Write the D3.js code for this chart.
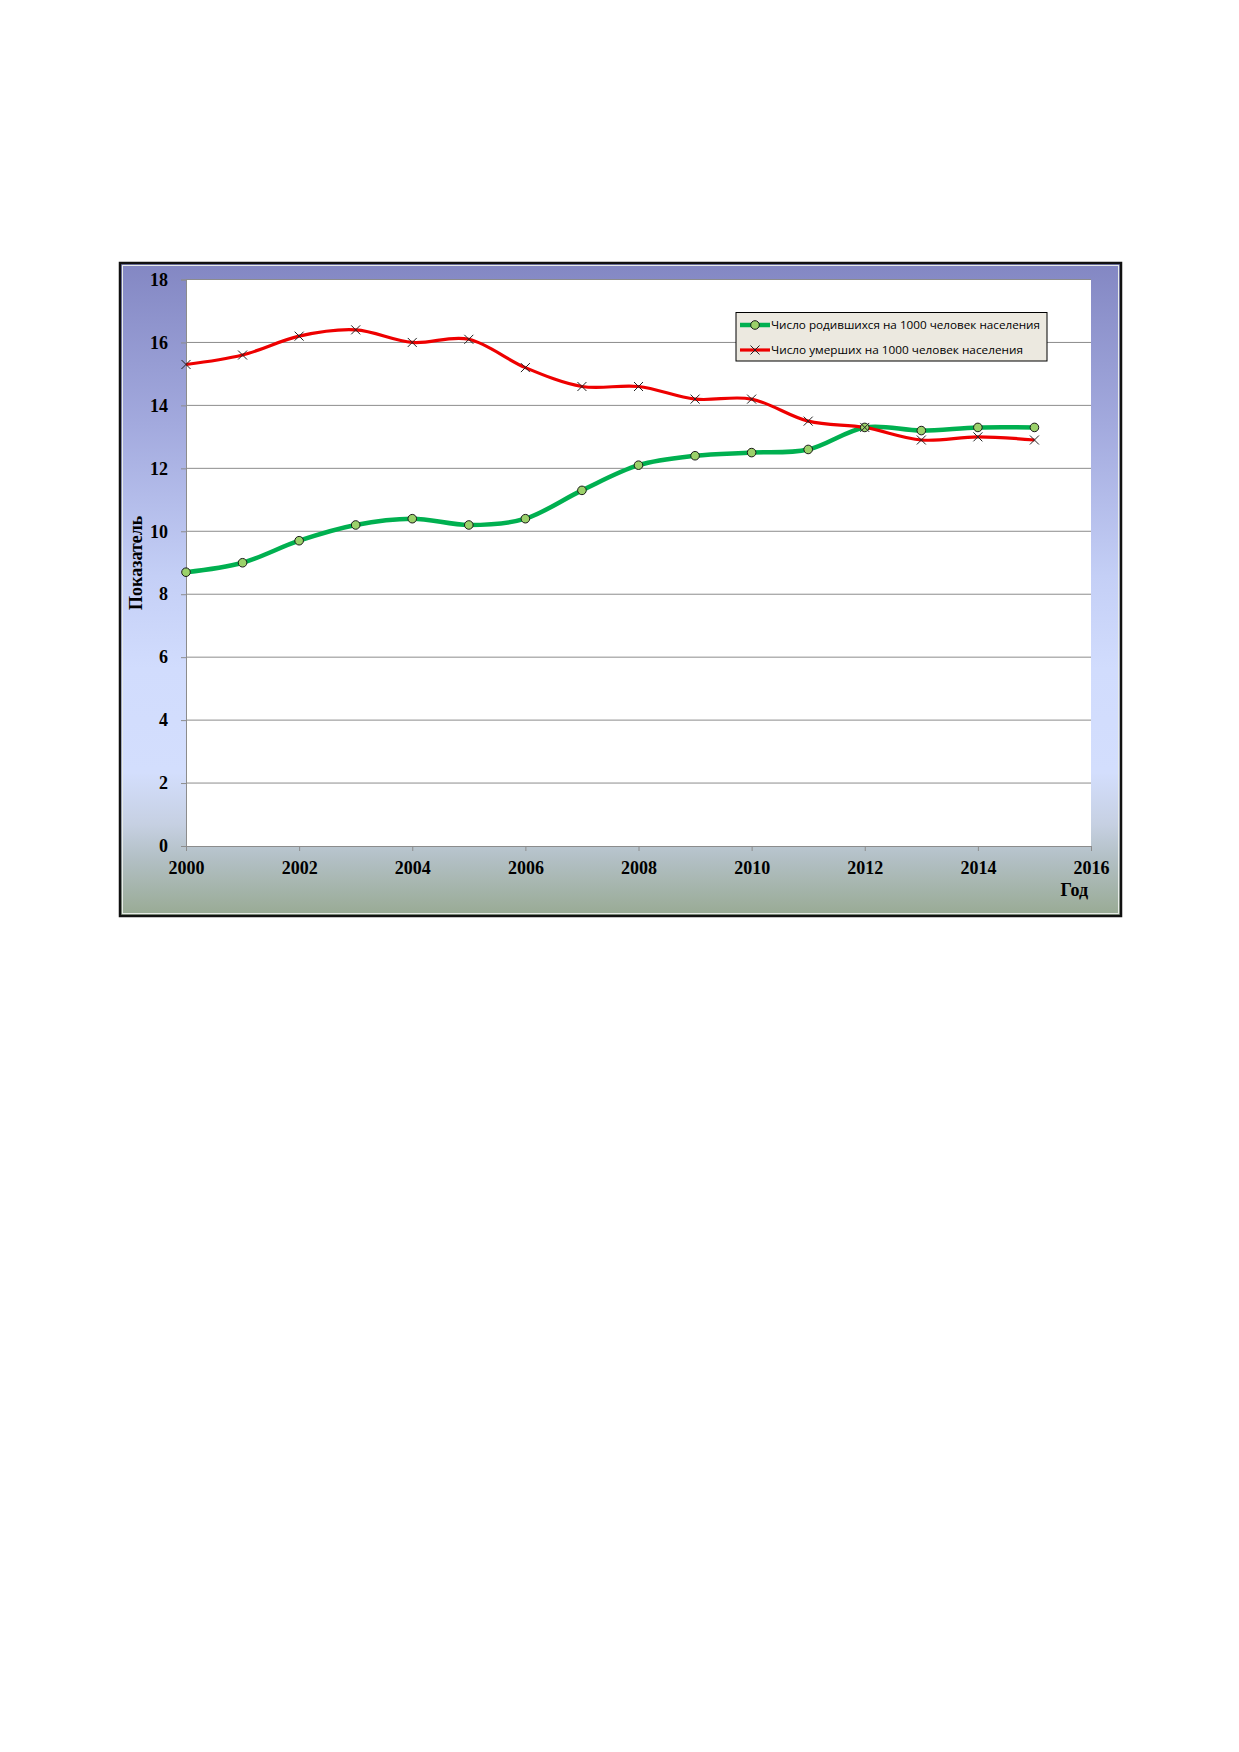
<!DOCTYPE html>
<html>
<head>
<meta charset="utf-8">
<script src="https://cdn.jsdelivr.net/npm/d3@7"></script>
<style>
  html, body { margin: 0; padding: 0; background: #fff; }
  svg { display: block; }
  .tick-label { font-family: "Liberation Serif", "DejaVu Serif", serif; font-weight: bold; font-size: 18px; fill: #000; }
  .legend-text { font-family: "Open Sans", "Noto Sans", sans-serif; font-size: 11.6px; fill: #000; }
</style>
</head>
<body>
<div id="chart"></div>
<script>
const years = [2000, 2001, 2002, 2003, 2004, 2005, 2006, 2007, 2008, 2009, 2010, 2011, 2012, 2013, 2014, 2015];
const births = [8.7, 9.0, 9.7, 10.2, 10.4, 10.2, 10.4, 11.3, 12.1, 12.4, 12.5, 12.6, 13.3, 13.2, 13.3, 13.3];
const deaths = [15.3, 15.6, 16.2, 16.4, 16.0, 16.1, 15.2, 14.6, 14.6, 14.2, 14.2, 13.5, 13.3, 12.9, 13.0, 12.9];
const xTicks = [2000, 2002, 2004, 2006, 2008, 2010, 2012, 2014, 2016];
const yTicks = [0, 2, 4, 6, 8, 10, 12, 14, 16, 18];
const seriesNames = ["Число родившихся на 1000 человек населения", "Число умерших на 1000 человек населения"];

const width = 1239, height = 1752;
const frame = { left: 120, top: 263, right: 1121, bottom: 916 };
const plot = { left: 186, top: 279.5, right: 1091, bottom: 846 };

const svg = d3.select("#chart").append("svg").attr("width", width).attr("height", height);
svg.append("rect").attr("width", width).attr("height", height).attr("fill", "#fff");

const defs = svg.append("defs");
const bg = defs.append("linearGradient").attr("id", "frameFill").attr("x1", "0%").attr("y1", "0%").attr("x2", "0%").attr("y2", "100%");
[["0%", "#8387c3"], ["25%", "#a3aade"], ["48%", "#c4cff6"], ["62%", "#d1dcfd"], ["78%", "#d3defd"], ["86%", "#c6d0e2"], ["91%", "#b3c0c6"], ["100%", "#98aa93"]]
  .forEach(([o, c]) => bg.append("stop").attr("offset", o).attr("stop-color", c));

// chart frame
svg.append("rect")
  .attr("x", frame.left).attr("y", frame.top)
  .attr("width", frame.right - frame.left).attr("height", frame.bottom - frame.top)
  .attr("fill", "url(#frameFill)").attr("stroke", "#111").attr("stroke-width", 2.5);
svg.append("rect")
  .attr("x", frame.left + 2.5).attr("y", frame.top + 2.5)
  .attr("width", frame.right - frame.left - 5).attr("height", frame.bottom - frame.top - 5)
  .attr("fill", "none").attr("stroke", "#e8ece8").attr("stroke-width", 1);

svg.append("rect")
  .attr("x", plot.left).attr("y", plot.top)
  .attr("width", plot.right - plot.left).attr("height", plot.bottom - plot.top)
  .attr("fill", "#fff");

const x = d3.scaleLinear().domain([2000, 2016]).range([plot.left, plot.right]);
const y = d3.scaleLinear().domain([0, 18]).range([plot.bottom, plot.top]);

// gridlines
svg.append("g").selectAll("line").data(yTicks.filter((d) => d > 0)).join("line")
  .attr("x1", plot.left).attr("x2", plot.right)
  .attr("y1", (d) => y(d)).attr("y2", (d) => y(d))
  .attr("stroke", "#8c8c8c").attr("stroke-width", 1);

// axes
const yAxis = svg.append("g").attr("transform", `translate(${plot.left},0)`)
  .call(d3.axisLeft(y).tickValues(yTicks).tickSize(5).tickPadding(13).tickFormat(d3.format("d")));
const xAxis = svg.append("g").attr("transform", `translate(0,${plot.bottom})`)
  .call(d3.axisBottom(x).tickValues(xTicks).tickSize(5).tickPadding(10).tickFormat(d3.format("d")));
[yAxis, xAxis].forEach((g) => {
  g.select(".domain").attr("stroke", "#8c8c8c");
  g.selectAll(".tick line").attr("stroke", "#8c8c8c");
  g.selectAll(".tick text").attr("class", "tick-label").attr("fill", "#000");
});

svg.append("text").attr("class", "tick-label")
  .attr("x", 1088).attr("y", 896).attr("text-anchor", "end").text("Год");
const yLabelY = (plot.top + plot.bottom) / 2;
svg.append("text").attr("class", "tick-label")
  .attr("x", 142).attr("y", yLabelY).attr("text-anchor", "middle")
  .attr("transform", `rotate(-90,142,${yLabelY})`).text("Показатель");

// series
const line = (vals) => d3.line()
  .x((_, i) => x(years[i]))
  .y((d) => y(d))
  .curve(d3.curveCardinal.tension(0))(vals);

svg.append("path").attr("d", line(births)).attr("fill", "none")
  .attr("stroke", "#00b050").attr("stroke-width", 4.5).attr("stroke-linejoin", "round");
svg.append("path").attr("d", line(deaths)).attr("fill", "none")
  .attr("stroke", "#ee0000").attr("stroke-width", 3.2).attr("stroke-linejoin", "round");

const cross = (g, cx, cy, r) => {
  g.append("path")
    .attr("d", `M${cx - r},${cy - r}L${cx + r},${cy + r}M${cx - r},${cy + r}L${cx + r},${cy - r}`)
    .attr("stroke", "#222").attr("stroke-width", 1).attr("fill", "none");
};

svg.append("g").selectAll("circle").data(births).join("circle")
  .attr("cx", (_, i) => x(years[i])).attr("cy", (d) => y(d)).attr("r", 4.3)
  .attr("fill", "#9bd16a").attr("stroke", "#1a1a1a").attr("stroke-width", 1);

const crosses = svg.append("g");
deaths.forEach((d, i) => cross(crosses, x(years[i]), y(d), 4.5));

// legend
const lg = svg.append("g");
lg.append("rect").attr("x", 736).attr("y", 312.5).attr("width", 311).attr("height", 48.5)
  .attr("fill", "#ece9e0").attr("stroke", "#000").attr("stroke-width", 1);
const rows = [325, 350];
lg.append("line").attr("x1", 740).attr("x2", 770).attr("y1", rows[0]).attr("y2", rows[0])
  .attr("stroke", "#00b050").attr("stroke-width", 4.5);
lg.append("circle").attr("cx", 755).attr("cy", rows[0]).attr("r", 4.3)
  .attr("fill", "#9bd16a").attr("stroke", "#1a1a1a").attr("stroke-width", 1);
lg.append("line").attr("x1", 740).attr("x2", 770).attr("y1", rows[1]).attr("y2", rows[1])
  .attr("stroke", "#ee0000").attr("stroke-width", 3.2);
cross(lg, 755, rows[1], 4.5);
const legendWidths = [269, 252];
lg.selectAll("text.legend-text").data(seriesNames).join("text")
  .attr("class", "legend-text")
  .attr("x", 771).attr("y", (_, i) => rows[i] + 4.3)
  .attr("textLength", (_, i) => legendWidths[i]).attr("lengthAdjust", "spacingAndGlyphs")
  .text((d) => d);
</script>
</body>
</html>
